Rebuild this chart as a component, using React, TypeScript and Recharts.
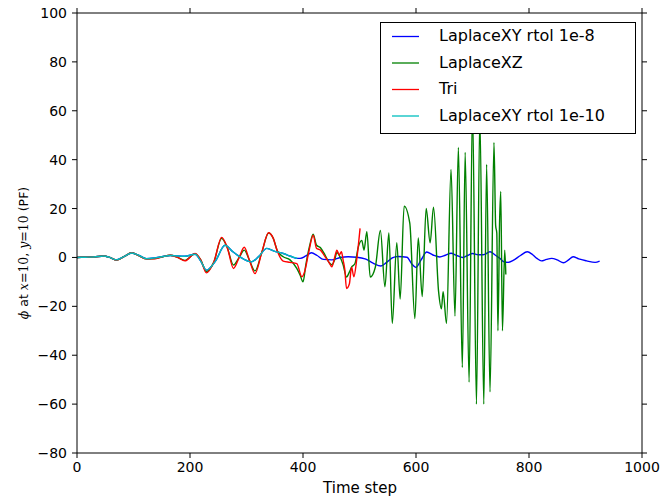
import React from "react"
import { Legend, Line, LineChart, XAxis, YAxis } from "recharts"

const FONT = "'DejaVu Sans', sans-serif"

const xTicks = [0, 200, 400, 600, 800, 1000]
const yTicks = [-80, -60, -40, -20, 0, 20, 40, 60, 80, 100]

// LaplaceXY rtol 1e-10 (and the early part of rtol 1e-8, which sits under it)
const tSmooth = [0, 15, 30, 47, 58, 70, 83, 97, 110, 123, 137, 150, 165, 178, 191, 209, 219, 229, 245, 262, 275, 288, 309, 322, 336, 350, 365, 378, 390]
const smoothVals = [0, 0.1, 0.2, 0.6, 0, -1.0, 0.3, 1.8, 0.8, -0.5, -0.2, 0.3, 0.8, 0.6, 0.5, 1.3, -1.5, -5.2, -1.5, 5.0, 2.5, 0.3, -1.8, 0.5, 3.7, 2.5, 1.6, 0.5, -0.4]

// LaplaceXY rtol 1e-8, after it leaves the 1e-10 curve
const tBlueTail = [395, 405, 415, 425, 436, 451, 466, 480, 495, 510, 524, 538, 548, 558, 568, 584, 592, 600, 609, 619, 630, 642, 652, 662, 672, 683, 692, 700, 710, 719, 731, 740, 749, 756, 763, 772, 785, 797, 806, 814, 822, 831, 840, 850, 861, 870, 878, 888, 902, 917, 925]
const blueTailVals = [-0.4, 0.6, 1.9, 0.8, -0.8, -1.0, 0, 0.3, 0.1, -0.6, -2.3, -3.5, -2.0, -0.2, 0.4, 0.1, -2.5, -4.1, -1.0, 2.2, 1.0, 0.2, 0.9, 1.7, 0.8, 0, 0.9, 1.6, 1.1, 1.1, 2.3, 1.0, -0.5, -1.8, -2.0, -1.2, 0.8, 2.3, 1.2, -0.4, -1.4, -0.8, -0.4, -1.0, -2.2, -1.0, 0.3, -0.6, -1.4, -2.0, -1.5]

// Tri
const tTri = [0, 15, 30, 47, 58, 70, 83, 97, 110, 123, 137, 150, 165, 178, 191, 209, 219, 229, 242, 256, 266, 277, 287, 296, 305, 315, 327, 339, 347, 355, 365, 377, 389, 398, 403, 410, 418, 424, 431, 439, 446, 451, 456, 460, 464, 468, 471, 474, 477, 482, 486, 490, 495, 501]
const triVals = [0, 0.1, 0.2, 0.6, 0, -1.1, 0.3, 1.9, 0.6, -0.6, -0.6, 0.2, 0.9, 0, -1.4, 1.6, -1, -6.3, -2, 8.2, 4, -4.5, 0, 4.2, -1, -6.6, 2, 10.1, 8, 2.3, -1.5, -2, -2.5, -7.9, -5.7, 2, 9.1, 3.7, 3, 0.3, -2, -3.8, 0, 3, 1, 2.3, -1.1, -5, -12.7, -10.9, -4, -7.9, -1, 11.9]

// LaplaceXZ
const tXZ = [0, 15, 30, 47, 58, 70, 83, 97, 110, 123, 137, 150, 165, 178, 191, 209, 219, 229, 242, 256, 266, 277, 287, 296, 305, 315, 327, 339, 347, 355, 365, 377, 389, 395, 400, 405, 412, 418, 424, 431, 439, 446, 451, 456, 460, 466, 471, 477, 482, 486, 492, 498, 504, 508, 513, 519, 528, 537, 545, 552, 558, 566, 572, 579, 589, 598, 604, 611, 618, 625, 631, 640, 645, 648, 654, 662, 669, 675, 682, 687, 694, 700, 707, 713, 720, 725, 731, 738, 741, 743, 745, 748, 750, 753, 757, 759]
const xzVals = [0, 0.1, 0.2, 0.6, 0, -1.1, 0.3, 1.9, 0.6, -0.6, -0.5, 0.2, 0.9, 0, -1.2, 1.5, -1, -5.8, -2, 7.8, 4, -3.1, 0, 3, -1, -5.5, 2, 10, 8, 2.5, 0.3, -1, -4.5, -7.3, -10, -3, 5, 9.5, 5, 4, 1, -2, -3, -1, 2, 0, -3, -8, -6, -4, -2.5, 4.4, 7, 3, 10.5, -8, -4, 11, -12, 10, -27, 6, -17, 21, 14, -25, 8, -16, 20, 6, 20.6, -14, -21, -14, -27, 36, -24, 45, -45, 43, -51, 62, -60, 58, -60, 38, -55, 47, 13, 10, -30, 15, 27, -30, 3, -7]

const toPoints = (ts: number[], vs: number[]) => ts.map((t, i) => ({ t, v: vs[i] }))

const SERIES = [
  { key: "xy8", name: "LaplaceXY rtol 1e-8", color: "#0000ff", data: toPoints(tSmooth.concat(tBlueTail), smoothVals.concat(blueTailVals)) },
  { key: "xz", name: "LaplaceXZ", color: "#008000", data: toPoints(tXZ, xzVals) },
  { key: "tri", name: "Tri", color: "#ff0000", data: toPoints(tTri, triVals) },
  { key: "xy10", name: "LaplaceXY rtol 1e-10", color: "#00bfbf", data: toPoints(tSmooth, smoothVals) },
]

const fmt = (v: number) => (v < 0 ? `\u2212${-v}` : `${v}`)
const tickStyle = { fill: "#000", fontSize: 14, fontFamily: FONT }

const LegendBox = () => (
  <div
    style={{
      position: "relative",
      width: 256,
      height: 112,
      border: "1px solid #000",
      background: "#fff",
      boxSizing: "border-box",
      fontFamily: FONT,
      fontSize: 16,
      color: "#000",
    }}
  >
    <svg width={50} height={110} style={{ position: "absolute", left: 0, top: 0 }}>
      {SERIES.map((s, i) => (
        <line key={s.key} x1={11} x2={38} y1={13.5 + i * 26.5} y2={13.5 + i * 26.5} stroke={s.color} strokeWidth={1.3} />
      ))}
    </svg>
    {SERIES.map((s, i) => (
      <div
        key={s.key}
        style={{ position: "absolute", left: 58, top: 3 + i * 26.5, lineHeight: "20px", whiteSpace: "nowrap" }}
      >
        {s.name}
      </div>
    ))}
  </div>
)

export default function App() {
  return (
    <div style={{ position: "absolute", left: 0, top: 0, width: 664, height: 496, background: "#fff" }}>
      <LineChart width={664} height={496} margin={{ top: 12, right: 21, bottom: 42, left: 76 }}>
        <XAxis
          dataKey="t"
          type="number"
          domain={[0, 1000]}
          ticks={xTicks}
          height={1}
          tickSize={5}
          tickMargin={4}
          stroke="#000"
          tick={tickStyle}
          allowDataOverflow
        />
        <XAxis
          xAxisId="top"
          orientation="top"
          dataKey="t"
          type="number"
          domain={[0, 1000]}
          ticks={xTicks}
          height={1}
          tickSize={5}
          stroke="#000"
          tickFormatter={() => ""}
          allowDataOverflow
        />
        <YAxis
          type="number"
          domain={[-80, 100]}
          ticks={yTicks}
          width={1}
          tickSize={5}
          tickMargin={5}
          stroke="#000"
          tick={tickStyle}
          tickFormatter={fmt}
          allowDataOverflow
        />
        <YAxis
          yAxisId="right"
          orientation="right"
          type="number"
          domain={[-80, 100]}
          ticks={yTicks}
          width={1}
          tickSize={5}
          stroke="#000"
          tickFormatter={() => ""}
          allowDataOverflow
        />
        {SERIES.map((s) => (
          <Line
            key={s.key}
            data={s.data}
            dataKey="v"
            name={s.name}
            type="monotone"
            stroke={s.color}
            strokeWidth={1.4}
            dot={false}
            isAnimationActive={false}
          />
        ))}
        <Legend
          layout="vertical"
          align="center"
          verticalAlign="middle"
          content={() => <LegendBox />}
          wrapperStyle={{ left: 380, top: 22, width: 256, height: 112 }}
        />
      </LineChart>
      <div
        style={{
          position: "absolute",
          left: 23,
          top: 253,
          transform: "translate(-50%, -50%) rotate(-90deg)",
          whiteSpace: "nowrap",
          fontFamily: FONT,
          fontSize: 12.5,
          color: "#000",
        }}
      >
        <span style={{ fontFamily: "'DejaVu Serif', serif", fontStyle: "italic" }}>ϕ</span> at{" "}
        <span style={{ fontFamily: "'DejaVu Serif', serif" }}>
          <i>x</i>=10
        </span>
        ,{" "}
        <span style={{ fontFamily: "'DejaVu Serif', serif" }}>
          <i>y</i>=10
        </span>{" "}
        (PF)
      </div>
      <div
        style={{
          position: "absolute",
          left: 360,
          top: 488,
          transform: "translate(-50%, -50%)",
          whiteSpace: "nowrap",
          fontFamily: FONT,
          fontSize: 15,
          color: "#000",
        }}
      >
        Time step
      </div>
    </div>
  )
}
